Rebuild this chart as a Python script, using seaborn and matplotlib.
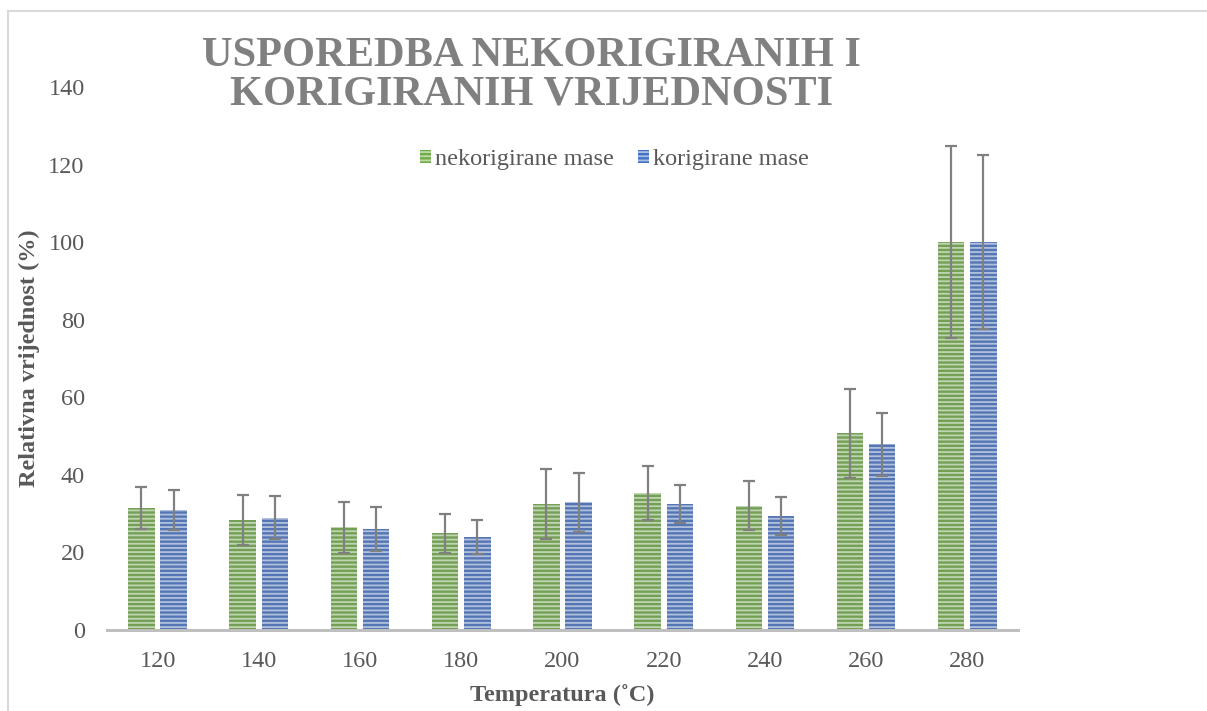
import pandas as pd
import seaborn as sns
import matplotlib.pyplot as plt
from matplotlib.patches import Patch
from matplotlib.lines import Line2D

# Data
temps = ['120', '140', '160', '180', '200', '220', '240', '260', '280']
nekorigirane = [31.4, 28.3, 26.5, 24.9, 32.5, 35.3, 32.1, 50.7, 100]
korigirane = [30.9, 29.0, 26.0, 24.0, 32.9, 32.5, 29.4, 47.9, 100]
err_nekorigirane = [5.4, 6.4, 6.6, 5.1, 9.1, 6.9, 6.2, 11.5, 24.7]
err_korigirane = [5.2, 5.5, 5.6, 4.4, 7.6, 5.0, 4.8, 8.1, 22.5]
series = ['nekorigirane mase', 'korigirane mase']
colors = ['#70AD47', '#4472C4']

df = pd.DataFrame({
    'temp': temps * 2,
    'value': nekorigirane + korigirane,
    'serija': [series[0]] * len(temps) + [series[1]] * len(temps),
})

sns.set_style('white')
plt.rcParams['font.family'] = ['Liberation Serif', 'DejaVu Serif']
plt.rcParams['hatch.linewidth'] = 1.3

fig = plt.figure(figsize=(12.07, 7.11), dpi=100)
ax = fig.add_axes([0.0886, 0.1139, 0.7548, 0.7637])

sns.barplot(data=df, x='temp', y='value', hue='serija', palette=colors,
            width=0.636, gap=0.18, errorbar=None, legend=False, ax=ax)

# horizontal stripe look
stripe = (1, 1, 1, 0.55)
for p in ax.patches:
    p.set_hatch('----')
    p.set_edgecolor(stripe)
    p.set_linewidth(0)

# error bars on top of the bars
for cont, errs in zip(ax.containers, [err_nekorigirane, err_korigirane]):
    xs = [b.get_x() + b.get_width() / 2 for b in cont]
    ys = [b.get_height() for b in cont]
    ax.errorbar(xs, ys, yerr=errs, fmt='none', ecolor='#808080',
                elinewidth=1.6, capsize=4.2, capthick=1.6, zorder=5)

ax.set_xlim(-0.5, 8.5)
ax.set_ylim(0, 140)
ax.set_yticks(range(0, 141, 20))
sns.despine(ax=ax, left=True)
ax.spines['bottom'].set_color('#BFBFBF')
ax.spines['bottom'].set_linewidth(2.2)
ax.tick_params(axis='both', length=0, labelsize=17.5, labelcolor='#595959')
ax.tick_params(axis='y', pad=16)
ax.tick_params(axis='x', pad=15)

ax.set_xlabel('Temperatura (˚C)', fontsize=17.5, fontweight='bold', color='#595959', labelpad=9)
ax.set_ylabel('Relativna vrijednost (%)', fontsize=17.5, fontweight='bold', color='#595959', labelpad=6)

handles = [Patch(facecolor=c, edgecolor=stripe, hatch='----', linewidth=0) for c in colors]
leg = ax.legend(handles, series, loc='center', bbox_to_anchor=(0.557, 0.866), ncol=2,
                frameon=False, fontsize=17.5, handlelength=0.45, handleheight=0.45,
                handletextpad=0.15, columnspacing=1.0)
for t in leg.get_texts():
    t.set_color('#595959')

fig.text(0.44, 0.8945, 'USPOREDBA NEKORIGIRANIH I\nKORIGIRANIH VRIJEDNOSTI',
         ha='center', va='center', fontsize=30.5, fontweight='bold', color='#808080',
         linespacing=1.0)

# chart-area border (only top and left edges visible in the crop)
fig.add_artist(Line2D([0.0066, 0.0066], [0, 0.9845], color='#D9D9D9', lw=1.5))
fig.add_artist(Line2D([0.0066, 1], [0.9845, 0.9845], color='#D9D9D9', lw=1.5))

fig.savefig('out.png', dpi=100)
